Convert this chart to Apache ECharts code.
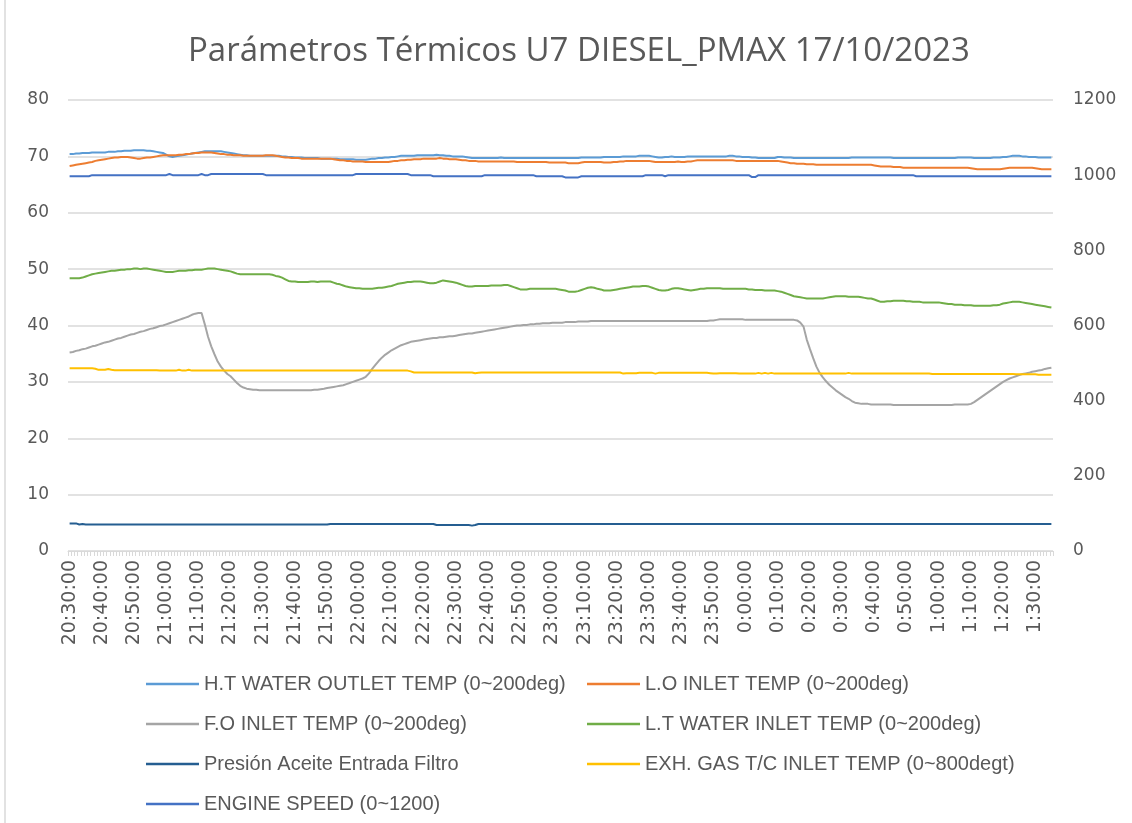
<!DOCTYPE html>
<html>
<head>
<meta charset="utf-8">
<script src="https://cdn.jsdelivr.net/npm/echarts@6/dist/echarts.min.js"></script>
<style>
html,body{margin:0;padding:0;background:#fff;}
#chart{width:1132px;height:823px;}
</style>
</head>
<body>
<div id="chart"></div>
<script>
// Category axis: one sample per minute, 20:30:00 -> 1:35:00
const startMinute = 20 * 60 + 30;
const sampleCount = 306;
const categories = [];
for (let k = 0; k < sampleCount; k++) {
  const t = startMinute + k;
  const h = Math.floor(t / 60) % 24;
  const m = t % 60;
  categories.push(h + ':' + (m < 10 ? '0' + m : m) + ':00');
}

const seriesNames = [
  'H.T WATER OUTLET TEMP (0~200deg)',
  'L.O INLET TEMP (0~200deg)',
  'F.O INLET TEMP (0~200deg)',
  'L.T WATER INLET TEMP (0~200deg)',
  'Presión Aceite Entrada Filtro',
  'EXH. GAS T/C INLET TEMP (0~800degt)',
  'ENGINE SPEED (0~1200)'
];

const leftTicks = [0, 10, 20, 30, 40, 50, 60, 70, 80];
const rightTicks = [0, 200, 400, 600, 800, 1000, 1200];

const htWaterOutlet = [
70.4,70.4,70.5,70.5,70.6,70.6,70.6,70.7,70.7,70.7,
70.7,70.7,70.8,70.8,70.8,70.9,70.9,71.0,71.0,71.0,
71.1,71.1,71.1,71.1,71.0,71.0,70.9,70.8,70.7,70.6,
70.3,70.0,69.9,70.0,70.1,70.2,70.3,70.4,70.5,70.6,
70.7,70.8,70.9,70.9,70.9,70.9,70.9,70.9,70.8,70.7,
70.6,70.5,70.4,70.3,70.2,70.2,70.1,70.1,70.1,70.1,
70.1,70.1,70.1,70.1,70.1,70.1,70.0,70.0,69.9,69.9,
69.8,69.8,69.8,69.7,69.7,69.7,69.7,69.7,69.6,69.6,
69.6,69.6,69.6,69.6,69.5,69.5,69.5,69.5,69.5,69.4,
69.4,69.4,69.4,69.5,69.6,69.6,69.7,69.7,69.8,69.8,
69.9,69.9,70.0,70.1,70.1,70.1,70.1,70.1,70.2,70.2,
70.2,70.2,70.2,70.2,70.3,70.2,70.2,70.1,70.1,70.0,
70.0,70.0,70.0,69.9,69.8,69.7,69.7,69.7,69.7,69.7,
69.7,69.7,69.7,69.7,69.8,69.7,69.7,69.7,69.7,69.7,
69.7,69.7,69.7,69.7,69.7,69.7,69.7,69.7,69.7,69.7,
69.7,69.7,69.7,69.7,69.7,69.7,69.7,69.7,69.7,69.8,
69.8,69.8,69.8,69.8,69.8,69.8,69.9,69.9,69.9,69.9,
69.9,69.9,70.0,70.0,70.0,70.0,70.0,70.1,70.1,70.1,
70.1,70.0,69.9,69.8,69.8,69.9,69.9,70.0,69.9,69.9,
69.9,69.9,70.0,70.0,70.0,70.0,70.0,70.0,70.0,70.0,
70.0,70.0,70.0,70.0,70.0,70.1,70.1,70.0,70.0,69.9,
69.9,69.9,69.8,69.8,69.7,69.7,69.7,69.7,69.7,69.7,
69.9,69.9,69.8,69.8,69.8,69.7,69.7,69.7,69.7,69.7,
69.7,69.7,69.7,69.7,69.7,69.7,69.7,69.7,69.7,69.7,
69.7,69.7,69.7,69.8,69.8,69.8,69.8,69.8,69.8,69.8,
69.8,69.8,69.8,69.8,69.8,69.8,69.7,69.7,69.7,69.7,
69.7,69.7,69.7,69.7,69.7,69.7,69.7,69.7,69.7,69.7,
69.7,69.7,69.7,69.7,69.7,69.7,69.8,69.8,69.8,69.8,
69.8,69.7,69.7,69.7,69.7,69.7,69.7,69.8,69.8,69.8,
69.9,69.9,70.0,70.1,70.1,70.1,70.0,70.0,69.9,69.9,
69.9,69.8,69.8,69.8,69.8,69.8
];

const loInlet = [
68.3,68.4,68.5,68.6,68.7,68.8,68.9,69.0,69.2,69.3,
69.4,69.5,69.6,69.7,69.8,69.8,69.9,69.9,69.9,69.8,
69.7,69.6,69.6,69.7,69.8,69.8,69.9,70.0,70.1,70.2,
70.2,70.2,70.2,70.2,70.3,70.3,70.4,70.4,70.5,70.6,
70.6,70.7,70.7,70.7,70.7,70.6,70.5,70.4,70.4,70.3,
70.3,70.2,70.2,70.2,70.1,70.1,70.1,70.1,70.1,70.1,
70.1,70.2,70.2,70.2,70.1,70.0,69.9,69.8,69.8,69.7,
69.7,69.7,69.6,69.6,69.6,69.6,69.6,69.6,69.6,69.6,
69.6,69.6,69.5,69.4,69.3,69.3,69.2,69.2,69.1,69.1,
69.1,69.1,69.0,69.0,69.0,69.0,69.0,69.0,69.0,69.0,
69.1,69.2,69.2,69.3,69.3,69.4,69.4,69.5,69.5,69.5,
69.6,69.6,69.6,69.6,69.6,69.7,69.6,69.6,69.5,69.5,
69.5,69.4,69.3,69.3,69.2,69.2,69.2,69.1,69.1,69.1,
69.1,69.1,69.1,69.1,69.1,69.1,69.1,69.1,69.1,69.0,
69.0,69.0,69.0,69.0,69.0,69.0,69.0,69.0,69.0,68.9,
68.9,68.9,68.9,68.9,68.9,68.8,68.8,68.8,68.8,68.9,
69.0,69.0,69.0,69.0,69.0,69.0,68.9,68.9,68.9,69.0,
69.0,69.1,69.1,69.2,69.2,69.2,69.2,69.2,69.2,69.2,
69.2,69.1,69.0,69.0,69.0,69.0,69.0,69.0,69.0,69.1,
69.0,69.0,69.1,69.1,69.2,69.3,69.3,69.3,69.3,69.3,
69.3,69.3,69.3,69.3,69.3,69.3,69.3,69.2,69.2,69.2,
69.2,69.2,69.2,69.2,69.2,69.2,69.2,69.2,69.2,69.2,
69.2,69.1,69.0,68.9,68.8,68.8,68.7,68.7,68.7,68.6,
68.6,68.6,68.5,68.5,68.5,68.5,68.5,68.5,68.5,68.5,
68.5,68.5,68.5,68.5,68.5,68.5,68.5,68.5,68.5,68.5,
68.4,68.3,68.2,68.2,68.2,68.2,68.1,68.1,68.1,68.0,
68.0,68.0,68.0,68.0,68.0,68.0,68.0,68.0,68.0,68.0,
68.0,68.0,68.0,68.0,68.0,68.0,68.0,68.0,68.0,68.0,
67.9,67.8,67.7,67.7,67.7,67.7,67.7,67.7,67.7,67.7,
67.8,67.9,68.0,68.0,68.0,68.0,68.0,68.0,68.0,68.0,
67.9,67.8,67.7,67.7,67.7,67.7
];

const foInlet = [
35.2,35.3,35.5,35.6,35.8,35.9,36.1,36.3,36.4,36.6,
36.8,37.0,37.1,37.3,37.5,37.7,37.8,38.0,38.2,38.4,
38.5,38.7,38.9,39.0,39.2,39.4,39.5,39.7,39.9,40.0,
40.2,40.4,40.6,40.8,41.0,41.2,41.4,41.6,41.9,42.1,
42.2,42.2,40.2,38.0,36.3,34.9,33.6,32.7,32.0,31.4,
31.0,30.4,29.8,29.3,29.0,28.8,28.7,28.6,28.6,28.5,
28.5,28.5,28.5,28.5,28.5,28.5,28.5,28.5,28.5,28.5,
28.5,28.5,28.5,28.5,28.5,28.5,28.6,28.6,28.7,28.8,
28.9,29.0,29.1,29.2,29.3,29.4,29.6,29.8,30.0,30.2,
30.4,30.6,30.9,31.5,32.3,33.0,33.7,34.3,34.8,35.2,
35.6,35.9,36.2,36.5,36.7,36.9,37.1,37.2,37.3,37.4,
37.5,37.6,37.7,37.8,37.8,37.9,37.9,38.0,38.1,38.1,
38.2,38.3,38.4,38.5,38.6,38.6,38.7,38.8,38.9,39.0,
39.1,39.2,39.3,39.4,39.5,39.6,39.7,39.8,39.9,40.0,
40.0,40.1,40.1,40.2,40.2,40.3,40.3,40.4,40.4,40.4,
40.5,40.5,40.5,40.5,40.6,40.6,40.6,40.6,40.7,40.7,
40.7,40.7,40.8,40.8,40.8,40.8,40.8,40.8,40.8,40.8,
40.8,40.8,40.8,40.8,40.8,40.8,40.8,40.8,40.8,40.8,
40.8,40.8,40.8,40.8,40.8,40.8,40.8,40.8,40.8,40.8,
40.8,40.8,40.8,40.8,40.8,40.8,40.8,40.8,40.8,40.9,
40.9,41.0,41.1,41.1,41.1,41.1,41.1,41.1,41.1,41.1,
41.0,41.0,41.0,41.0,41.0,41.0,41.0,41.0,41.0,41.0,
41.0,41.0,41.0,41.0,41.0,41.0,40.9,40.5,39.8,37.5,
35.8,34.2,32.7,31.6,30.8,30.1,29.5,29.0,28.5,28.1,
27.7,27.3,27.0,26.6,26.3,26.2,26.1,26.1,26.1,26.0,
26.0,26.0,26.0,26.0,26.0,26.0,25.9,25.9,25.9,25.9,
25.9,25.9,25.9,25.9,25.9,25.9,25.9,25.9,25.9,25.9,
25.9,25.9,25.9,25.9,25.9,26.0,26.0,26.0,26.0,26.0,
26.1,26.4,26.8,27.2,27.6,28.0,28.4,28.8,29.2,29.6,
30.0,30.3,30.6,30.8,31.0,31.2,31.4,31.5,31.6,31.8,
31.9,32.0,32.1,32.3,32.4,32.5
];

const ltWaterInlet = [
48.4,48.4,48.4,48.4,48.5,48.7,48.9,49.1,49.2,49.3,
49.4,49.5,49.6,49.7,49.7,49.8,49.9,49.9,50.0,50.0,
50.1,50.1,50.0,50.1,50.1,50.0,49.9,49.8,49.7,49.6,
49.5,49.5,49.5,49.6,49.7,49.7,49.7,49.8,49.8,49.9,
49.9,49.9,50.0,50.1,50.1,50.1,50.0,49.9,49.8,49.7,
49.6,49.4,49.2,49.1,49.1,49.1,49.1,49.1,49.1,49.1,
49.1,49.1,49.1,49.0,48.8,48.7,48.5,48.2,47.9,47.8,
47.8,47.7,47.7,47.7,47.7,47.8,47.8,47.7,47.8,47.8,
47.8,47.8,47.6,47.4,47.3,47.1,46.9,46.8,46.7,46.6,
46.6,46.5,46.5,46.5,46.5,46.6,46.7,46.7,46.8,46.9,
47.0,47.2,47.4,47.5,47.6,47.7,47.7,47.8,47.8,47.8,
47.7,47.6,47.5,47.5,47.6,47.8,48.0,47.9,47.8,47.7,
47.6,47.4,47.2,47.0,46.9,46.9,47.0,47.0,47.0,47.0,
47.0,47.1,47.1,47.1,47.1,47.2,47.2,47.0,46.8,46.6,
46.4,46.4,46.4,46.5,46.5,46.5,46.5,46.5,46.5,46.5,
46.5,46.5,46.4,46.3,46.2,46.0,46.0,46.0,46.1,46.3,
46.5,46.7,46.8,46.7,46.5,46.4,46.2,46.2,46.2,46.3,
46.4,46.5,46.6,46.7,46.8,46.9,46.9,46.9,47.0,47.0,
46.9,46.7,46.5,46.3,46.2,46.2,46.3,46.5,46.6,46.6,
46.5,46.4,46.3,46.2,46.3,46.4,46.5,46.5,46.6,46.6,
46.6,46.6,46.6,46.5,46.5,46.5,46.5,46.5,46.5,46.5,
46.5,46.4,46.4,46.3,46.3,46.3,46.2,46.2,46.2,46.2,
46.1,46.0,45.8,45.6,45.4,45.2,45.1,45.0,44.9,44.8,
44.8,44.8,44.8,44.8,44.8,44.9,45.0,45.1,45.2,45.2,
45.2,45.2,45.1,45.1,45.1,45.1,45.0,44.9,44.8,44.8,
44.6,44.4,44.2,44.2,44.3,44.3,44.4,44.4,44.4,44.4,
44.3,44.3,44.2,44.2,44.2,44.1,44.1,44.1,44.1,44.1,
44.1,44.0,43.9,43.8,43.8,43.7,43.7,43.7,43.6,43.6,
43.6,43.5,43.5,43.5,43.5,43.5,43.5,43.6,43.6,43.7,
43.9,44.0,44.1,44.2,44.2,44.2,44.1,44.0,43.9,43.8,
43.7,43.6,43.5,43.4,43.3,43.2
];

const presionAceite = [
4.9,4.9,4.9,4.7,4.8,4.7,4.7,4.7,4.7,4.7,
4.7,4.7,4.7,4.7,4.7,4.7,4.7,4.7,4.7,4.7,
4.7,4.7,4.7,4.7,4.7,4.7,4.7,4.7,4.7,4.7,
4.7,4.7,4.7,4.7,4.7,4.7,4.7,4.7,4.7,4.7,
4.7,4.7,4.7,4.7,4.7,4.7,4.7,4.7,4.7,4.7,
4.7,4.7,4.7,4.7,4.7,4.7,4.7,4.7,4.7,4.7,
4.7,4.7,4.7,4.7,4.7,4.7,4.7,4.7,4.7,4.7,
4.7,4.7,4.7,4.7,4.7,4.7,4.7,4.7,4.7,4.7,
4.7,4.8,4.8,4.8,4.8,4.8,4.8,4.8,4.8,4.8,
4.8,4.8,4.8,4.8,4.8,4.8,4.8,4.8,4.8,4.8,
4.8,4.8,4.8,4.8,4.8,4.8,4.8,4.8,4.8,4.8,
4.8,4.8,4.8,4.8,4.6,4.6,4.6,4.6,4.6,4.6,
4.6,4.6,4.6,4.6,4.6,4.5,4.6,4.8,4.8,4.8,
4.8,4.8,4.8,4.8,4.8,4.8,4.8,4.8,4.8,4.8,
4.8,4.8,4.8,4.8,4.8,4.8,4.8,4.8,4.8,4.8,
4.8,4.8,4.8,4.8,4.8,4.8,4.8,4.8,4.8,4.8,
4.8,4.8,4.8,4.8,4.8,4.8,4.8,4.8,4.8,4.8,
4.8,4.8,4.8,4.8,4.8,4.8,4.8,4.8,4.8,4.8,
4.8,4.8,4.8,4.8,4.8,4.8,4.8,4.8,4.8,4.8,
4.8,4.8,4.8,4.8,4.8,4.8,4.8,4.8,4.8,4.8,
4.8,4.8,4.8,4.8,4.8,4.8,4.8,4.8,4.8,4.8,
4.8,4.8,4.8,4.8,4.8,4.8,4.8,4.8,4.8,4.8,
4.8,4.8,4.8,4.8,4.8,4.8,4.8,4.8,4.8,4.8,
4.8,4.8,4.8,4.8,4.8,4.8,4.8,4.8,4.8,4.8,
4.8,4.8,4.8,4.8,4.8,4.8,4.8,4.8,4.8,4.8,
4.8,4.8,4.8,4.8,4.8,4.8,4.8,4.8,4.8,4.8,
4.8,4.8,4.8,4.8,4.8,4.8,4.8,4.8,4.8,4.8,
4.8,4.8,4.8,4.8,4.8,4.8,4.8,4.8,4.8,4.8,
4.8,4.8,4.8,4.8,4.8,4.8,4.8,4.8,4.8,4.8,
4.8,4.8,4.8,4.8,4.8,4.8,4.8,4.8,4.8,4.8,
4.8,4.8,4.8,4.8,4.8,4.8
];

const exhGasInlet = [
486,486,486,486,486,486,486,486,485,482,
482,482,484,482,481,481,481,481,481,481,
481,481,481,481,481,481,481,481,480,480,
480,480,480,480,482,480,480,482,480,480,
480,480,480,480,480,480,480,480,480,480,
480,480,480,480,480,480,480,480,480,480,
480,480,480,480,480,480,480,480,480,480,
480,480,480,480,480,480,480,480,480,480,
480,480,480,480,480,480,480,480,480,480,
480,480,480,480,480,480,480,480,480,480,
480,480,480,480,480,480,478,475,475,475,
475,475,475,475,475,475,475,475,475,475,
475,475,475,475,475,475,473,474,475,475,
475,475,475,475,475,475,475,475,475,475,
475,475,475,475,475,475,475,475,475,475,
475,475,475,475,475,475,475,475,475,475,
475,475,475,475,475,475,475,475,475,475,
475,475,472,473,473,473,473,474,474,474,
474,474,472,474,474,474,474,474,474,474,
474,474,474,474,474,474,474,474,474,473,
472,472,473,473,473,473,473,473,472,472,
472,472,472,472,474,472,474,472,474,472,
472,472,472,472,472,472,472,472,472,472,
472,472,472,472,472,472,472,472,472,472,
472,472,474,472,472,472,472,472,472,472,
472,472,472,472,472,472,472,472,472,472,
472,472,472,472,472,472,472,472,471,471,
471,471,471,471,471,471,471,471,471,471,
471,471,471,471,471,471,471,471,471,471,
471,471,471,471,470,470,470,470,470,470,
470,469,469,469,469,469
];

const engineSpeed = [
997,997,997,997,997,997,997,1000,1000,1000,
1000,1000,1000,1000,1000,1000,1000,1000,1000,1000,
1000,1000,1000,1000,1000,1000,1000,1000,1000,1000,
1000,1003,1000,1000,1000,1000,1000,1000,1000,1000,
1000,1003,1000,1000,1003,1003,1003,1003,1003,1003,
1003,1003,1003,1003,1003,1003,1003,1003,1003,1003,
1003,1000,1000,1000,1000,1000,1000,1000,1000,1000,
1000,1000,1000,1000,1000,1000,1000,1000,1000,1000,
1000,1000,1000,1000,1000,1000,1000,1000,1000,1003,
1003,1003,1003,1003,1003,1003,1003,1003,1003,1003,
1003,1003,1003,1003,1003,1003,1000,1000,1000,1000,
1000,1000,1000,997,997,997,997,997,997,997,
997,997,997,997,997,997,997,997,997,1000,
1000,1000,1000,1000,1000,1000,1000,1000,1000,1000,
1000,1000,1000,1000,1000,997,997,997,997,997,
997,997,997,997,994,994,994,994,994,997,
997,997,997,997,997,997,997,997,997,997,
997,997,997,997,997,997,997,997,997,1000,
1000,1000,1000,1000,1000,997,1000,1000,1000,1000,
1000,1000,1000,1000,1000,1000,1000,1000,1000,1000,
1000,1000,1000,1000,1000,1000,1000,1000,1000,1000,
1000,1000,995,995,1000,1000,1000,1000,1000,1000,
1000,1000,1000,1000,1000,1000,1000,1000,1000,1000,
1000,1000,1000,1000,1000,1000,1000,1000,1000,1000,
1000,1000,1000,1000,1000,1000,1000,1000,1000,1000,
1000,1000,1000,1000,1000,1000,1000,1000,1000,1000,
1000,1000,1000,997,997,997,997,997,997,997,
997,997,997,997,997,997,997,997,997,997,
997,997,997,997,997,997,997,997,997,997,
997,997,997,997,997,997,997,997,997,997,
997,997,997,997,997,997
];

const seriesColors = ['#5B9BD5', '#ED7D31', '#A5A5A5', '#70AD47', '#255E91', '#FFC000', '#4472C4'];
const seriesValues = [htWaterOutlet, loInlet, foInlet, ltWaterInlet, presionAceite, exhGasInlet, engineSpeed];
const seriesAxis = [0, 0, 0, 0, 0, 1, 1];

const textColor = '#595959';
const gridColor = '#d9d9d9';

const chart = echarts.init(document.getElementById('chart'), null, { renderer: 'canvas' });

const series = seriesNames.map((name, k) => ({
  name: name,
  type: 'line',
  yAxisIndex: seriesAxis[k],
  data: seriesValues[k],
  showSymbol: false,
  symbol: 'none',
  smooth: false,
  lineStyle: { color: seriesColors[k], width: 2 },
  itemStyle: { color: seriesColors[k] },
  emphasis: { disabled: true }
}));

const legendCommon = {
  orient: 'vertical',
  icon: 'rect',
  itemWidth: 53,
  itemHeight: 2.5,
  itemGap: 20,
  textStyle: { color: textColor, fontSize: 20, fontFamily: 'Liberation Sans', lineHeight: 20 },
  selectedMode: false
};

chart.setOption({
  animation: false,
  backgroundColor: '#ffffff',
  title: {
    text: 'Parámetros Térmicos U7 DIESEL_PMAX 17/10/2023',
    left: 183,
    top: 30,
    textStyle: { color: textColor, fontSize: 33, fontWeight: 'normal', fontFamily: 'Open Sans' }
  },
  legend: [
    Object.assign({}, legendCommon, { left: 141, top: 669, data: [seriesNames[0], seriesNames[2], seriesNames[4], seriesNames[6]] }),
    Object.assign({}, legendCommon, { left: 582, top: 669, data: [seriesNames[1], seriesNames[3], seriesNames[5]] })
  ],
  grid: { left: 68, right: 79, top: 100, bottom: 272, containLabel: false },
  xAxis: {
    type: 'category',
    data: categories,
    boundaryGap: true,
    axisLine: { show: true, lineStyle: { color: gridColor, width: 1 } },
    axisTick: { show: true, interval: 0, length: 5, lineStyle: { color: gridColor, width: 1 } },
    axisLabel: { interval: 9, rotate: 90, color: textColor, fontSize: 19, fontFamily: 'DejaVu Sans', margin: 9 },
    splitLine: { show: false }
  },
  yAxis: [
    {
      type: 'value', min: leftTicks[0], max: leftTicks[leftTicks.length - 1], interval: 10,
      axisLine: { show: false }, axisTick: { show: false },
      axisLabel: { color: textColor, fontSize: 17, fontFamily: 'DejaVu Sans', margin: 19 },
      splitLine: { show: true, lineStyle: { color: gridColor, width: 1.5 } }
    },
    {
      type: 'value', min: rightTicks[0], max: rightTicks[rightTicks.length - 1], interval: 200,
      axisLine: { show: false }, axisTick: { show: false },
      axisLabel: { color: textColor, fontSize: 17, fontFamily: 'DejaVu Sans', margin: 20, formatter: function (v) { return String(v); } },
      splitLine: { show: false }
    }
  ],
  graphic: [
    { type: 'line', shape: { x1: 5, y1: 0, x2: 5, y2: 823 }, style: { stroke: '#d9d9d9', lineWidth: 1.5 } }
  ],
  series: series
});
</script>
</body>
</html>
